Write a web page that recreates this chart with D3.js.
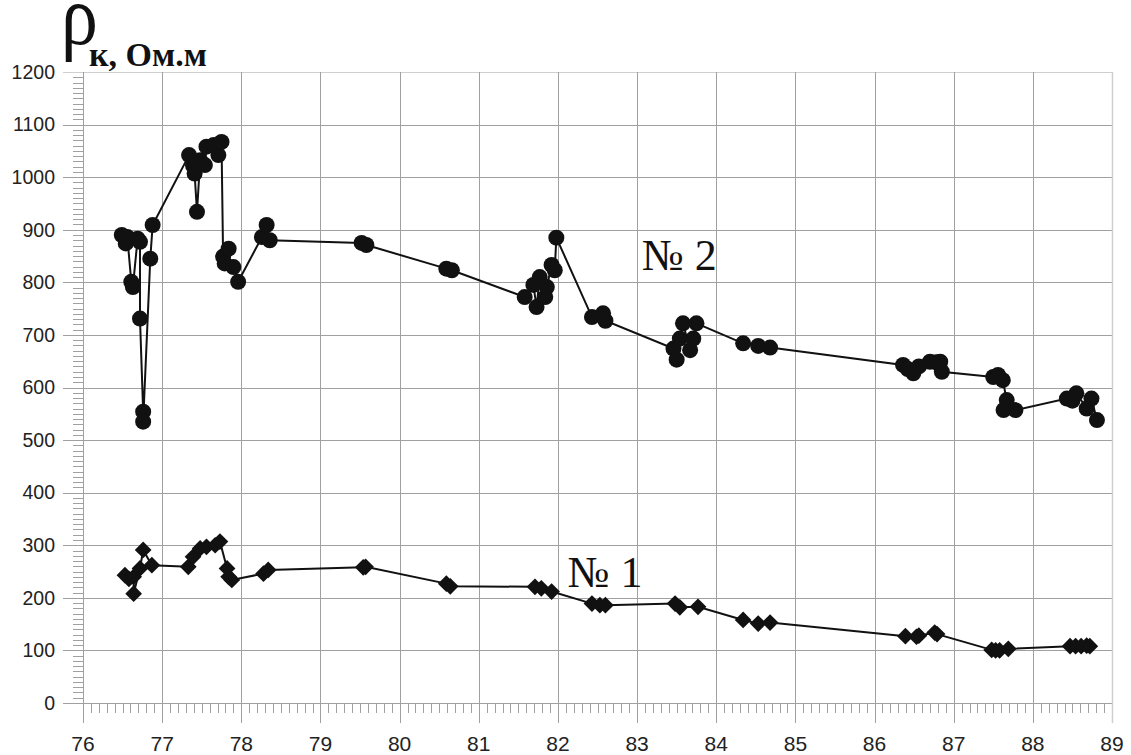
<!DOCTYPE html>
<html>
<head>
<meta charset="utf-8">
<script src="https://cdn.jsdelivr.net/npm/d3@7"></script>
<style>
  html, body { margin: 0; padding: 0; background: #fff; }
  svg { display: block; }
</style>
</head>
<body>
<svg id="chart" width="1131" height="755"></svg>
<script>
// Apparent resistivity of two wells (Ом·м) against year
const xTicks = [76, 77, 78, 79, 80, 81, 82, 83, 84, 85, 86, 87, 88, 89];
const yTicks = [0, 100, 200, 300, 400, 500, 600, 700, 800, 900, 1000, 1100, 1200];

// Well № 2: [year, ρк]
const well2 = [
  [76.49, 890], [76.54, 874], [76.56, 886], [76.61, 801], [76.63, 791],
  [76.69, 883], [76.72, 877], [76.72, 731], [76.76, 554], [76.76, 535],
  [76.85, 845], [76.88, 909], [77.34, 1042], [77.39, 1022], [77.41, 1007],
  [77.44, 934], [77.48, 1032], [77.54, 1023], [77.56, 1058], [77.65, 1061],
  [77.71, 1042], [77.75, 1067], [77.77, 849], [77.84, 864], [77.79, 836],
  [77.90, 829], [77.96, 801], [78.26, 886], [78.32, 909], [78.36, 880],
  [79.52, 875], [79.58, 871], [80.59, 826], [80.66, 823], [81.58, 772],
  [81.69, 795], [81.73, 753], [81.77, 810], [81.84, 772], [81.86, 791],
  [81.92, 833], [81.96, 823], [81.98, 885], [82.43, 734], [82.57, 741],
  [82.60, 727], [83.46, 674], [83.50, 653], [83.54, 693], [83.58, 722],
  [83.67, 671], [83.71, 693], [83.75, 722], [84.34, 684], [84.53, 679],
  [84.68, 676], [86.36, 643], [86.42, 635], [86.49, 627], [86.56, 640],
  [86.70, 649], [86.78, 648], [86.83, 649], [86.85, 630], [87.50, 620],
  [87.56, 624], [87.62, 614], [87.67, 576], [87.63, 557], [87.78, 557],
  [88.43, 579], [88.50, 575], [88.55, 589], [88.68, 560], [88.74, 579],
  [88.81, 538]
];

// Well № 1: [year, ρк]
const well1 = [
  [76.53, 243], [76.58, 236], [76.64, 240], [76.64, 208], [76.72, 256],
  [76.76, 291], [76.87, 262], [77.33, 259], [77.39, 278], [77.48, 294],
  [77.56, 297], [77.67, 300], [77.73, 307], [77.82, 256], [77.84, 240],
  [77.88, 234], [78.28, 246], [78.34, 253], [79.54, 258], [79.57, 259],
  [80.59, 227], [80.64, 222], [81.71, 221], [81.79, 218], [81.92, 212],
  [82.43, 189], [82.53, 186], [82.60, 186], [83.48, 189], [83.54, 182],
  [83.77, 183], [84.34, 158], [84.53, 151], [84.68, 153], [86.39, 127],
  [86.53, 126], [86.56, 128], [86.76, 134], [86.79, 131], [87.48, 101],
  [87.53, 100], [87.58, 100], [87.69, 103], [88.47, 108], [88.54, 108],
  [88.61, 108], [88.68, 109], [88.72, 108]
];

const svg = d3.select("#chart");
const plotLeft = 83, plotRight = 1112, plotTop = 72, plotBottom = 703;

const x = d3.scaleLinear().domain([76, 89]).range([plotLeft, plotRight]);
const y = d3.scaleLinear().domain([0, 1200]).range([plotBottom, plotTop]);

const gridColor = "#a0a0a0";
const borderColor = "#cfcfcf";
const px = v => Math.round(v) + 0.5;

// horizontal grid lines (extend left as major ticks)
svg.append("g")
  .selectAll("line")
  .data(yTicks)
  .join("line")
  .attr("x1", plotLeft - 20).attr("x2", plotRight)
  .attr("y1", d => px(y(d))).attr("y2", d => px(y(d)))
  .attr("stroke", d => d === 1200 ? borderColor : gridColor)
  .attr("stroke-width", 1);

// vertical grid lines (extend below as major ticks)
svg.append("g")
  .selectAll("line")
  .data(xTicks)
  .join("line")
  .attr("x1", d => px(x(d))).attr("x2", d => px(x(d)))
  .attr("y1", plotTop).attr("y2", plotBottom + 20)
  .attr("stroke", d => d === 89 ? borderColor : gridColor)
  .attr("stroke-width", d => d === 89 ? 1.5 : 1);

// minor ticks on the x axis
const xMinor = d3.range(76, 89, 0.1).filter(v => Math.abs(v - Math.round(v)) > 1e-6);
svg.append("g")
  .selectAll("line")
  .data(xMinor)
  .join("line")
  .attr("x1", d => px(x(d))).attr("x2", d => px(x(d)))
  .attr("y1", plotBottom).attr("y2", plotBottom + 10)
  .attr("stroke", gridColor).attr("stroke-width", 1);

// minor ticks on the y axis
const yMinor = d3.range(0, 1200, 10).filter(v => v % 100 !== 0);
svg.append("g")
  .selectAll("line")
  .data(yMinor)
  .join("line")
  .attr("x1", plotLeft - 10).attr("x2", plotLeft)
  .attr("y1", d => px(y(d))).attr("y2", d => px(y(d)))
  .attr("stroke", gridColor).attr("stroke-width", 1);

// tick labels
svg.append("g")
  .selectAll("text")
  .data(yTicks)
  .join("text")
  .attr("x", 55).attr("y", d => y(d))
  .attr("dy", "0.35em")
  .attr("text-anchor", "end")
  .attr("font-family", "Liberation Sans, Arial, sans-serif")
  .attr("font-size", 19.5)
  .attr("fill", "#222")
  .text(d => d);

svg.append("g")
  .selectAll("text")
  .data(xTicks)
  .join("text")
  .attr("x", d => x(d)).attr("y", 751)
  .attr("text-anchor", "middle")
  .attr("font-family", "Liberation Sans, Arial, sans-serif")
  .attr("font-size", 21)
  .attr("fill", "#222")
  .text(d => d);

// series lines
const line = d3.line().x(d => x(d[0])).y(d => y(d[1]));
svg.append("path").datum(well2).attr("d", line)
  .attr("fill", "none").attr("stroke", "#111").attr("stroke-width", 2);
svg.append("path").datum(well1).attr("d", line)
  .attr("fill", "none").attr("stroke", "#111").attr("stroke-width", 2);

// markers: circles for № 2, diamonds for № 1
svg.append("g")
  .selectAll("circle")
  .data(well2)
  .join("circle")
  .attr("cx", d => x(d[0])).attr("cy", d => y(d[1]))
  .attr("r", 8)
  .attr("fill", "#111");

const diamond = d3.symbol().type(d3.symbolSquare).size(140);
svg.append("g")
  .selectAll("path")
  .data(well1)
  .join("path")
  .attr("d", diamond)
  .attr("transform", d => `translate(${x(d[0])},${y(d[1])}) rotate(45)`)
  .attr("fill", "#111");

// series labels
svg.append("text")
  .attr("x", x(83.06)).attr("y", y(824))
  .attr("font-family", "Liberation Serif, Times New Roman, serif")
  .attr("font-size", 44)
  .attr("fill", "#111")
  .text("№ 2");

svg.append("text")
  .attr("x", x(82.12)).attr("y", y(221))
  .attr("font-family", "Liberation Serif, Times New Roman, serif")
  .attr("font-size", 44)
  .attr("fill", "#111")
  .text("№ 1");

// y-axis title: ρ with subscript "к, Ом.м"
svg.append("text")
  .attr("transform", "translate(61,44) scale(0.88,1)")
  .attr("font-family", "Liberation Serif, Times New Roman, serif")
  .attr("font-size", 84)
  .attr("fill", "#111")
  .text("ρ");
svg.append("text")
  .attr("x", 89).attr("y", 66)
  .attr("font-family", "Liberation Serif, Times New Roman, serif")
  .attr("font-size", 34)
  .attr("font-weight", "bold")
  .attr("fill", "#111")
  .text("к, Ом.м");
</script>
</body>
</html>
